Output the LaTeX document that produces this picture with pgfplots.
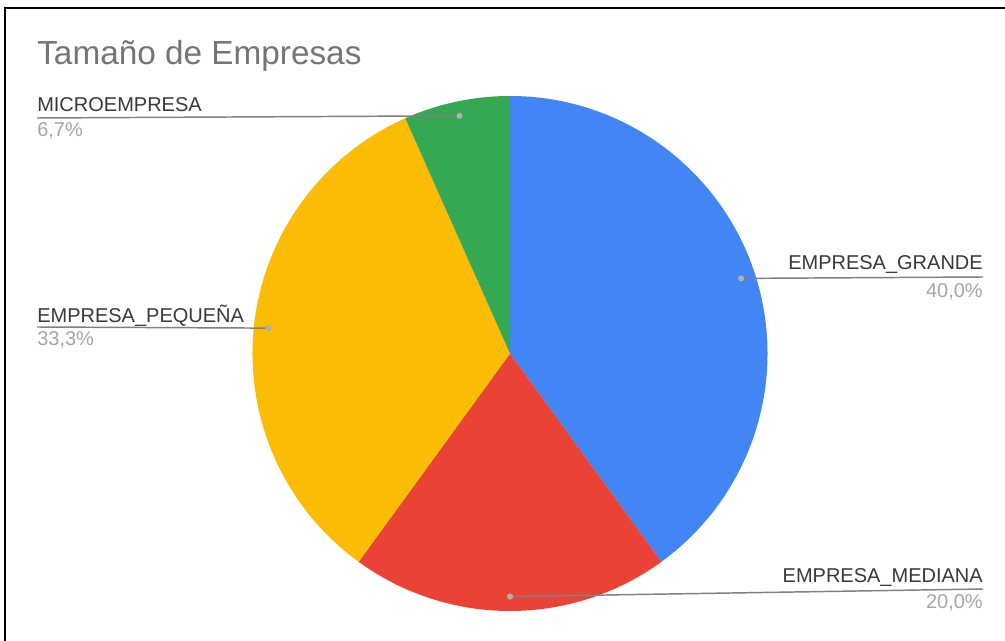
\documentclass[border=0pt]{standalone}
\usepackage{pgfplots}
\pgfplotsset{compat=1.18}
\usepackage{pgfplotstable}
\usepackage{fontspec}
\setmainfont{Liberation Sans}

\definecolor{cblue}{HTML}{4285F4}
\definecolor{cred}{HTML}{EA4335}
\definecolor{cyellow}{HTML}{FBBC04}
\definecolor{cgreen}{HTML}{34A853}
\definecolor{ctitle}{HTML}{757575}
\definecolor{clabel}{HTML}{383838}
\definecolor{cpct}{HTML}{A5A5A5}
\definecolor{cline}{HTML}{808080}
\definecolor{cdot}{HTML}{B0B0B0}

\pgfplotstableread{
name value
GRANDE 6
MEDIANA 3
PEQUENA 5
MICRO 1
}\datatable

\pgfplotstablegetelem{0}{value}\of\datatable \let\vA\pgfplotsretval
\pgfplotstablegetelem{1}{value}\of\datatable \let\vB\pgfplotsretval
\pgfplotstablegetelem{2}{value}\of\datatable \let\vC\pgfplotsretval
\pgfplotstablegetelem{3}{value}\of\datatable \let\vD\pgfplotsretval
\pgfmathsetmacro\total{\vA+\vB+\vC+\vD}
\pgfmathsetmacro\aZero{90}
\pgfmathsetmacro\aOne{\aZero-360*\vA/\total}
\pgfmathsetmacro\aTwo{\aOne-360*\vB/\total}
\pgfmathsetmacro\aThree{\aTwo-360*\vC/\total}
\pgfmathsetmacro\aFour{\aThree-360*\vD/\total}
\pgfmathsetmacro\mA{(\aZero+\aOne)/2}
\pgfmathsetmacro\mB{(\aOne+\aTwo)/2}
\pgfmathsetmacro\mC{(\aTwo+\aThree)/2}
\pgfmathsetmacro\mD{(\aThree+\aFour)/2}

\def\cx{510}
\def\cy{353.5}
\def\R{257.5}
\def\Rd{243}

\newcommand{\lbl}{\fontsize{15}{18}\selectfont}

\begin{document}
\begin{tikzpicture}
\begin{axis}[hide axis, scale only axis, width=753.75pt, height=480.75pt,
  xmin=0, xmax=1005, ymin=0, ymax=641, y dir=reverse, clip=false]
  % wedges
  \fill[cblue] (axis cs:\cx,\cy) -- (axis cs:{\cx+\R*cos(\aZero)},{\cy-\R*sin(\aZero)}) arc[start angle=\aZero, end angle=\aOne, radius=193.125pt] -- cycle;
  \fill[cred] (axis cs:\cx,\cy) -- (axis cs:{\cx+\R*cos(\aOne)},{\cy-\R*sin(\aOne)}) arc[start angle=\aOne, end angle=\aTwo, radius=193.125pt] -- cycle;
  \fill[cyellow] (axis cs:\cx,\cy) -- (axis cs:{\cx+\R*cos(\aTwo)},{\cy-\R*sin(\aTwo)}) arc[start angle=\aTwo, end angle=\aThree, radius=193.125pt] -- cycle;
  \fill[cgreen] (axis cs:\cx,\cy) -- (axis cs:{\cx+\R*cos(\aThree)},{\cy-\R*sin(\aThree)}) arc[start angle=\aThree, end angle=\aFour, radius=193.125pt] -- cycle;

  % leader lines
  \draw[cline, line width=1.1pt] (axis cs:{\cx+\Rd*cos(\mA)},{\cy-\Rd*sin(\mA)}) -- (axis cs:983,277);
  \draw[cline, line width=1.1pt] (axis cs:{\cx+\Rd*cos(\mB)},{\cy-\Rd*sin(\mB)}) -- (axis cs:983,589);
  \draw[cline, line width=1.1pt] (axis cs:{\cx+\Rd*cos(\mC)},{\cy-\Rd*sin(\mC)}) -- (axis cs:37,327);
  \draw[cline, line width=1.1pt] (axis cs:{\cx+\Rd*cos(\mD)},{\cy-\Rd*sin(\mD)}) -- (axis cs:37,118);
  % dots
  \fill[cdot] (axis cs:{\cx+\Rd*cos(\mA)},{\cy-\Rd*sin(\mA)}) circle[radius=2.3pt];
  \fill[cdot] (axis cs:{\cx+\Rd*cos(\mB)},{\cy-\Rd*sin(\mB)}) circle[radius=2.3pt];
  \fill[cdot] (axis cs:{\cx+\Rd*cos(\mC)},{\cy-\Rd*sin(\mC)}) circle[radius=2.3pt];
  \fill[cdot] (axis cs:{\cx+\Rd*cos(\mD)},{\cy-\Rd*sin(\mD)}) circle[radius=2.3pt];

  % labels
  \node[anchor=base east, inner sep=0, text=clabel, font=\lbl] at (axis cs:983,270) {EMPRESA\_GRANDE};
  \node[anchor=base east, inner sep=0, text=cpct, font=\lbl] at (axis cs:983,297) {40,0\%};
  \node[anchor=base east, inner sep=0, text=clabel, font=\lbl] at (axis cs:983,582) {EMPRESA\_MEDIANA};
  \node[anchor=base east, inner sep=0, text=cpct, font=\lbl] at (axis cs:983,608) {20,0\%};
  \node[anchor=base west, inner sep=0, text=clabel, font=\lbl] at (axis cs:37,322) {EMPRESA\_PEQUEÑA};
  \node[anchor=base west, inner sep=0, text=cpct, font=\lbl] at (axis cs:37,345) {33,3\%};
  \node[anchor=base west, inner sep=0, text=clabel, font=\lbl] at (axis cs:37,112) {MICROEMPRESA};
  \node[anchor=base west, inner sep=0, text=cpct, font=\lbl] at (axis cs:37,137) {6,7\%};

  % title
  \node[anchor=base west, inner sep=0, text=ctitle, font=\fontsize{25}{30}\selectfont] at (axis cs:37,65) {Tamaño de Empresas};

  % frame (left and top edges)
  \draw[black, line width=1.5pt] (axis cs:5,641) -- (axis cs:5,8) -- (axis cs:1005,8);
\end{axis}
\pgfresetboundingbox
\useasboundingbox (current axis.south west) rectangle (current axis.north east);
\end{tikzpicture}
\end{document}
